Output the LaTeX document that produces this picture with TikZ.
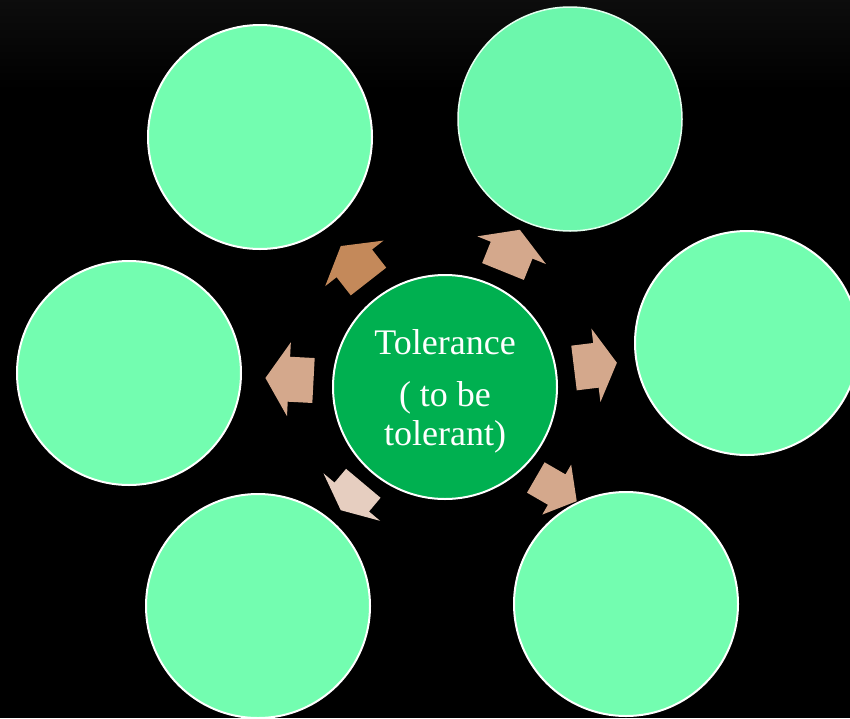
\documentclass[tikz,border=0pt]{standalone}
\usepackage{fontspec}
\setmainfont{Liberation Serif}
\usepackage{tikz}

\definecolor{mint}{RGB}{115,253,176}
\definecolor{mintsoft}{RGB}{108,247,172}
\definecolor{tolgreen}{RGB}{0,176,80}
\definecolor{darktan}{RGB}{196,137,90}
\definecolor{tan}{RGB}{212,168,140}
\definecolor{paletan}{RGB}{230,206,192}

% block arrow: tail centre, angle, colour, extra transform
\newcommand{\radarrow}[4]{%
  \fill[#3, shift={#1}, rotate=#2, #4] (0,-22.5) -- (23,-22.5) -- (23,-37)
    -- (45,0) -- (23,37) -- (23,22.5) -- (0,22.5) -- cycle;}

\begin{document}
\begin{tikzpicture}[x=1pt, y=-1pt,
  bubble/.style={circle, draw=white, line width=2pt, fill=mint,
    minimum size=224pt, inner sep=0pt}]
\fill[black] (0,0) rectangle (850,718);
\shade[top color=black!95!white, bottom color=black] (0,0) rectangle (850,90);
\useasboundingbox (0,0) rectangle (850,718);

\radarrow{(368.5,281.5)}{128}{darktan}{}
\radarrow{(503,271.5)}{68}{tan}{}
\radarrow{(313.5,380.5)}{177}{tan}{xscale=1.07}
\radarrow{(574,368)}{7}{tan}{xscale=0.96}
\radarrow{(363.3,483.3)}{-130}{paletan}{xscale=0.78}
\radarrow{(535.8,477.5)}{-30}{tan}{xscale=1.05, yscale=0.78}

\draw (445,387) node[bubble, fill=tolgreen,
  label={[yshift=-4pt, text=white, align=center,
    font=\fontsize{36}{39}\selectfont]center:{Tolerance\\[13pt]( to be\\tolerant)}}] (tol) {} ;

\draw (260,137) node[bubble] (tl) {} ;
\draw (570,119) node[bubble, fill=mintsoft, draw=white!80!mint, line width=1.5pt] (tr) {} ;
\draw (129,373) node[bubble] (l) {} ;
\draw (747,343) node[bubble] (r) {} ;
\draw (258,606) node[bubble] (bl) {} ;
\draw (626,604) node[bubble] (br) {} ;
\end{tikzpicture}
\end{document}
